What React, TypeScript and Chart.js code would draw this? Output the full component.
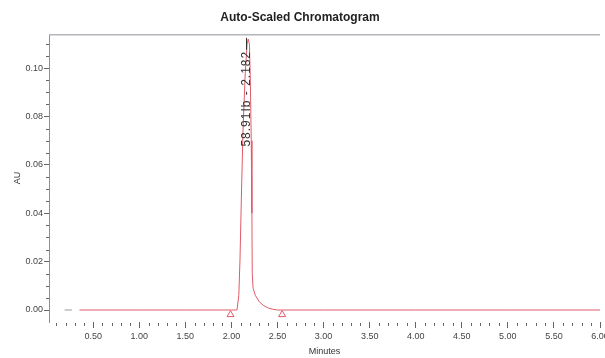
import { useEffect, useRef } from "react";
import { Chart, registerables } from "chart.js";

Chart.register(...registerables);

const FONT = "'Liberation Sans', Arial, sans-serif";

// Chromatogram trace (retention time in minutes, absorbance in AU)
const rtMinutes = [0.35, 1.0, 1.5, 1.9, 2.0, 2.06, 2.08, 2.093, 2.11, 2.125, 2.15, 2.17, 2.182, 2.195, 2.205, 2.215, 2.222, 2.226, 2.235, 2.26, 2.3, 2.35, 2.4, 2.45, 2.5, 3.0, 4.0, 5.0, 6.0];
const auValues = [0, 0, 0, 0, 0, 0, 0.006, 0.021, 0.05, 0.074, 0.098, 0.11, 0.112, 0.11, 0.095, 0.07, 0.04, 0.015, 0.009, 0.006, 0.0035, 0.0018, 0.0008, 0.0003, 0, 0, 0, 0, 0];

// short grey segment at the start of the baseline
const preTimes = [0.19, 0.27];
const preValues = [0, 0];

// integration start / end markers
const markerTimes = [1.99, 2.55];
const markerValues = [-0.0019, -0.0019];

const peakName = "58.91Ib";
const peakRt = 2.182;

const xMajorTicks = [0.5, 1.0, 1.5, 2.0, 2.5, 3.0, 3.5, 4.0, 4.5, 5.0, 5.5, 6.0];
const xMinorTicks = [0.1, 0.2, 0.3, 0.4, 0.6, 0.7, 0.8, 0.9, 1.1, 1.2, 1.3, 1.4, 1.6, 1.7, 1.8, 1.9, 2.1, 2.2, 2.3, 2.4, 2.6, 2.7, 2.8, 2.9, 3.1, 3.2, 3.3, 3.4, 3.6, 3.7, 3.8, 3.9, 4.1, 4.2, 4.3, 4.4, 4.6, 4.7, 4.8, 4.9, 5.1, 5.2, 5.3, 5.4, 5.6, 5.7, 5.8, 5.9];
const yMajorTicks = [0.0, 0.02, 0.04, 0.06, 0.08, 0.1];
const yMinorTicks = [0.005, 0.01, 0.015, 0.025, 0.03, 0.035, 0.045, 0.05, 0.055, 0.065, 0.07, 0.075, 0.085, 0.09, 0.095, 0.105, 0.11];

const RED = "#e05a68";

const App = () => {
  const ref = useRef<HTMLCanvasElement>(null);

  useEffect(() => {
    const decor = {
      id: "decor",
      afterDraw(chart: any) {
        const { ctx, chartArea } = chart;
        const xs = chart.scales.x;
        const ys = chart.scales.y;
        ctx.save();
        // top border
        ctx.strokeStyle = "#b4b6bc";
        ctx.lineWidth = 1.5;
        ctx.beginPath();
        ctx.moveTo(chartArea.left, chartArea.top + 0.5);
        ctx.lineTo(chartArea.right, chartArea.top + 0.5);
        ctx.stroke();
        // minor ticks
        ctx.strokeStyle = "#666";
        ctx.lineWidth = 1;
        ctx.beginPath();
        xMinorTicks.forEach((v) => {
          const px = Math.round(xs.getPixelForValue(v)) + 0.5;
          ctx.moveTo(px, chartArea.bottom + 1);
          ctx.lineTo(px, chartArea.bottom + 4);
        });
        yMinorTicks.forEach((v) => {
          const py = Math.round(ys.getPixelForValue(v)) + 0.5;
          ctx.moveTo(chartArea.left - 3, py);
          ctx.lineTo(chartArea.left, py);
        });
        ctx.stroke();
        // peak label
        const px = xs.getPixelForValue(peakRt) - 2;
        const topY = ys.getPixelForValue(0.1125);
        ctx.strokeStyle = "#333";
        ctx.beginPath();
        ctx.moveTo(Math.round(px) + 0.5, topY);
        ctx.lineTo(Math.round(px) + 0.5, topY + 12);
        ctx.stroke();
        ctx.translate(px, topY + 13);
        ctx.rotate(-Math.PI / 2);
        ctx.fillStyle = "#333";
        ctx.font = `12px ${FONT}`;
        (ctx as any).letterSpacing = "1px";
        ctx.textAlign = "right";
        ctx.textBaseline = "middle";
        ctx.fillText(`${peakName} - ${peakRt.toFixed(3)}`, 0, 0);
        ctx.restore();
      },
    };

    const chart = new Chart(ref.current!, {
      type: "scatter",
      data: {
        datasets: [
          {
            data: preTimes.map((x, i) => ({ x, y: preValues[i] })),
            showLine: true,
            borderColor: "#9a9a9a",
            borderWidth: 1,
            pointRadius: 0,
          },
          {
            data: rtMinutes.map((x, i) => ({ x, y: auValues[i] })),
            showLine: true,
            borderColor: RED,
            borderWidth: 1,
            pointRadius: 0,
            tension: 0,
          },
          {
            data: markerTimes.map((x, i) => ({ x, y: markerValues[i] })),
            showLine: false,
            pointStyle: "triangle",
            pointRadius: 4,
            borderColor: RED,
            borderWidth: 1,
            backgroundColor: "rgba(255,255,255,0)",
          },
        ],
      },
      options: {
        responsive: false,
        animation: false,
        devicePixelRatio: 1,
        layout: { padding: { left: 0, right: 5, top: 0, bottom: 0 } },
        plugins: {
          legend: { display: false },
          tooltip: { enabled: false },
          title: {
            display: true,
            text: "Auto-Scaled Chromatogram",
            color: "#222",
            font: { family: FONT, size: 12, weight: "bold" },
            padding: { top: 10, bottom: 9.8 },
          },
        },
        scales: {
          x: {
            type: "linear",
            position: "bottom",
            min: 0.02,
            max: 6.0,
            afterBuildTicks: (s: any) => {
              s.ticks = xMajorTicks.map((v) => ({ value: v }));
            },
            afterFit: (s: any) => {
              s.height = 36;
              s.paddingLeft = 0;
              s.paddingRight = 0;
            },
            ticks: {
              callback: (v: any) => Number(v).toFixed(2),
              color: "#444",
              font: { family: FONT, size: 9 },
              padding: 3,
              maxRotation: 0,
              autoSkip: false,
            },
            grid: { drawOnChartArea: false, drawTicks: true, tickLength: 6, color: "#666" },
            border: { display: false },
            title: {
              display: true,
              text: "Minutes",
              color: "#333",
              font: { family: FONT, size: 9 },
              padding: { top: 0, bottom: 1 },
            },
          },
          y: {
            type: "linear",
            min: -0.00496,
            max: 0.114,
            afterBuildTicks: (s: any) => {
              s.ticks = yMajorTicks.map((v) => ({ value: v }));
            },
            afterFit: (s: any) => {
              s.width = 49;
              s.paddingTop = 0;
              s.paddingBottom = 0;
            },
            ticks: {
              callback: (v: any) => Number(v).toFixed(2),
              color: "#444",
              font: { family: FONT, size: 9 },
              padding: 1,
            },
            grid: { drawOnChartArea: false, drawTicks: true, tickLength: 5, color: "#666" },
            border: { display: true, color: "#8890a0", width: 1 },
            title: {
              display: true,
              text: "AU",
              color: "#333",
              font: { family: FONT, size: 9 },
              padding: { top: 12, bottom: 0 },
            },
          },
        },
      } as any,
      plugins: [decor],
    });
    return () => chart.destroy();
  }, []);

  return (
    <div style={{ position: "fixed", left: 0, top: 0, width: 605, height: 358, background: "#fff" }}>
      <canvas ref={ref} width={605} height={358} style={{ display: "block", width: 605, height: 358 }} />
    </div>
  );
};

export default App;
